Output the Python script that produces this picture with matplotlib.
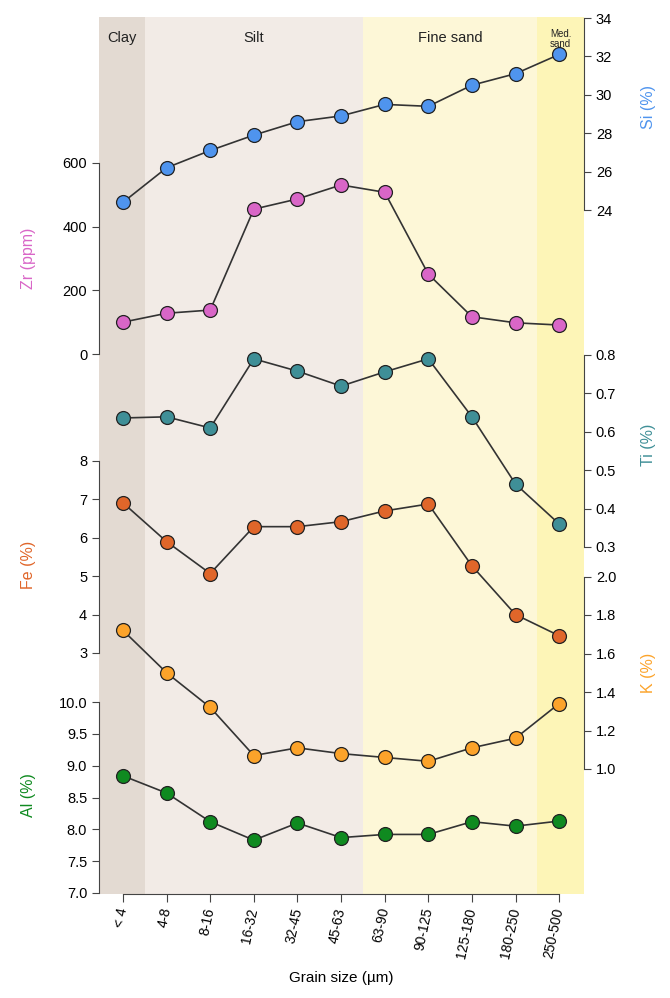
import matplotlib.pyplot as plt
import numpy as np

plt.rcParams['font.family'] = ['Liberation Sans', 'DejaVu Sans']

sizes = ['< 4', '4-8', '8-16', '16-32', '32-45', '45-63', '63-90', '90-125',
         '125-180', '180-250', '250-500']
si = [24.4, 26.2, 27.1, 27.9, 28.6, 28.9, 29.5, 29.4, 30.5, 31.1, 32.1]
zr = [100, 128, 138, 455, 487, 531, 508, 251, 117, 98, 91]
ti = [0.636, 0.639, 0.610, 0.790, 0.758, 0.719, 0.756, 0.790, 0.639, 0.464, 0.360]
fe = [6.91, 5.90, 5.07, 6.29, 6.29, 6.42, 6.70, 6.88, 5.27, 4.00, 3.45]
k = [1.72, 1.50, 1.32, 1.07, 1.11, 1.08, 1.06, 1.04, 1.11, 1.16, 1.34]
al = [8.84, 8.57, 8.12, 7.83, 8.10, 7.87, 7.92, 7.92, 8.12, 8.05, 8.13]

bands = ['Clay', 'Silt', 'Fine sand', 'Med.\nsand']
band_edges = [-0.55, 0.5, 5.5, 9.5, 10.57]
band_colors = ['#e3dad2', '#f2ebe6', '#fdf7d7', '#fdf5b7']

W, H = 670, 998
L, R, T, B = 99, 584, 17, 894
rect = [L / W, 1 - B / H, (R - L) / W, (B - T) / H]

fig = plt.figure(figsize=(W / 100, H / 100), dpi=100)
ax = fig.add_axes(rect)
x = np.arange(len(sizes))
ax.set_xlim(band_edges[0], band_edges[-1])
ax.set_ylim(0, 1)
for i, name in enumerate(bands):
    ax.axvspan(band_edges[i], band_edges[i + 1], color=band_colors[i], lw=0)
    cx = (band_edges[i] + band_edges[i + 1]) / 2
    if i == 3:
        ax.text(cx, 0.975, name, ha='center', va='center', fontsize=7, color='#222',
                linespacing=1.0)
    else:
        ax.text(cx, 0.984, name, ha='center', va='top', fontsize=10.5, color='#222')
for s in ['top', 'left', 'right']:
    ax.spines[s].set_visible(False)
ax.spines['bottom'].set_bounds(0, 10)
ax.spines['bottom'].set_color('#444')
ax.set_yticks([])
ax.set_xticks(x)
ax.set_xticklabels(sizes, rotation=78, ha='right', va='center', rotation_mode='anchor',
                   fontsize=10)
ax.tick_params(axis='x', length=6, color='#444', pad=4)
ax.set_xlabel('Grain size (µm)', fontsize=11, labelpad=8)


def series(vals, side, p1, p2, ticks, fmt, color, label, labpos):
    a = fig.add_axes(rect, sharex=ax)
    a.patch.set_visible(False)
    (v1, y1), (v2, y2) = p1, p2
    s = (v2 - v1) / (y1 - y2)
    a.set_ylim(v1 - s * (B - y1), v1 + s * (y1 - T))
    for sp in ['top', 'bottom', 'left', 'right']:
        a.spines[sp].set_visible(sp == side)
    a.spines[side].set_bounds(ticks[0], ticks[-1])
    a.spines[side].set_color('#444')
    a.yaxis.set_ticks_position(side)
    a.set_yticks(ticks)
    a.set_yticklabels([fmt.format(t) for t in ticks], fontsize=10.5)
    a.tick_params(axis='y', length=5, color='#444')
    a.tick_params(axis='x', bottom=False, labelbottom=False)
    a.plot(x, vals, '-', color='#333', lw=1.2, zorder=2)
    a.plot(x, vals, 'o', ms=10, mfc=color, mec='#222', mew=0.9, zorder=3)
    fig.text(labpos[0] / W, 1 - labpos[1] / H, label, rotation=90, color=color,
             fontsize=11.5, ha='center', va='center')
    return a


series(si, 'right', (24, 210), (34, 18), np.arange(24, 35, 2), '{:.0f}',
       '#4f94ee', 'Si (%)', (648, 107))
series(zr, 'left', (0, 354), (600, 163), np.arange(0, 601, 200), '{:.0f}',
       '#d966c7', 'Zr (ppm)', (28, 258))
series(ti, 'right', (0.3, 547), (0.8, 355), np.round(np.arange(0.3, 0.81, 0.1), 1), '{:.1f}',
       '#3f8f97', 'Ti (%)', (648, 445))
series(fe, 'left', (3, 653), (8, 461), np.arange(3, 9, 1), '{:.0f}',
       '#e0662a', 'Fe (%)', (28, 565))
series(k, 'right', (1.0, 769), (1.8, 615), np.round(np.arange(1.0, 2.01, 0.2), 1), '{:.1f}',
       '#fca32a', 'K (%)', (648, 673))
series(al, 'left', (7.0, 893), (10.0, 702), np.arange(7.0, 10.01, 0.5), '{:.1f}',
       '#0f8a20', 'Al (%)', (28, 795))

fig.savefig('out.png', dpi=100)
